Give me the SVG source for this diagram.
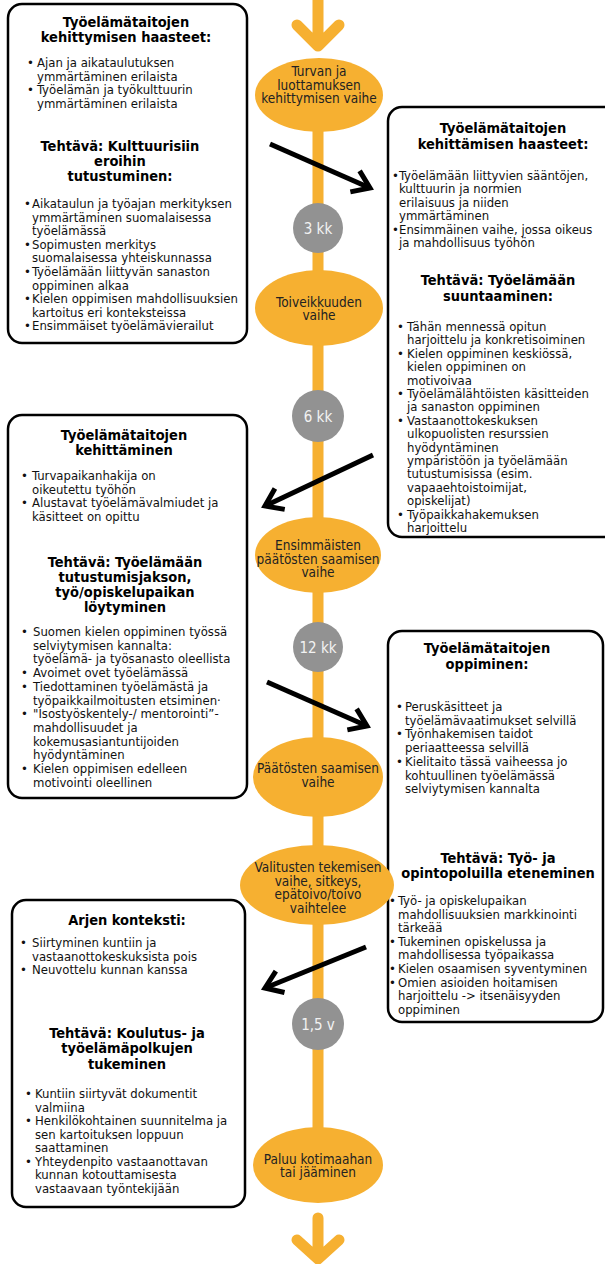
<svg xmlns="http://www.w3.org/2000/svg" width="605" height="1264" viewBox="0 0 605 1264">
<defs>
<style>
text { font-family: "DejaVu Sans Condensed", "DejaVu Sans", sans-serif; }
.box { fill: #ffffff; stroke: #000000; stroke-width: 2.5; }
.h { font-size: 14.5px; font-weight: bold; text-anchor: middle; fill: #000000; }
.b { font-size: 13px; fill: #111111; }
.e { font-size: 13.5px; text-anchor: middle; fill: #222222; }
.c { font-size: 15px; text-anchor: middle; fill: #f2f2f2; }
.phase { fill: #f6b031; }
.time { fill: #929292; }
.spine { stroke: #f6b031; stroke-width: 11; fill: none; stroke-linecap: round; stroke-linejoin: round; }
.arr { stroke: #000000; stroke-width: 5; fill: none; marker-end: url(#head); }
</style>
<marker id="head" markerUnits="userSpaceOnUse" viewBox="0 0 26 26" markerWidth="26" markerHeight="26" refX="20" refY="13" orient="auto" overflow="visible">
<path d="M3.6,1.5 L20,13 L3.6,24.5" fill="none" stroke="#000000" stroke-width="5" stroke-linejoin="miter"/>
</marker>
</defs>
<rect width="605" height="1264" fill="#ffffff"/>

<g id="box-1">
<rect class="box" x="8" y="4" width="239" height="339" rx="14"/>
<text class="h"><tspan x="126" y="27">Työelämätaitojen</tspan><tspan x="126" y="42">kehittymisen haasteet:</tspan></text>
<text class="b"><tspan x="27" y="67">•</tspan><tspan x="27" y="94">•</tspan></text>
<text class="b"><tspan x="37" y="67">Ajan ja aikataulutuksen</tspan><tspan x="37" y="80.5">ymmärtäminen erilaista</tspan><tspan x="37" y="94">Työelämän ja työkulttuurin</tspan><tspan x="37" y="107.5">ymmärtäminen erilaista</tspan></text>
<text class="h"><tspan x="120" y="151">Tehtävä: Kulttuurisiin</tspan><tspan x="120" y="166">eroihin</tspan><tspan x="120" y="181">tutustuminen:</tspan></text>
<text class="b"><tspan x="24" y="208">•</tspan><tspan x="24" y="248.8">•</tspan><tspan x="24" y="276">•</tspan><tspan x="24" y="303.2">•</tspan><tspan x="24" y="330.4">•</tspan></text>
<text class="b"><tspan x="32" y="208">Aikataulun ja työajan merkityksen</tspan><tspan x="32" y="221.6">ymmärtäminen suomalaisessa</tspan><tspan x="32" y="235.2">työelämässä</tspan><tspan x="32" y="248.8">Sopimusten merkitys</tspan><tspan x="32" y="262.4">suomalaisessa yhteiskunnassa</tspan><tspan x="32" y="276">Työelämään liittyvän sanaston</tspan><tspan x="32" y="289.6">oppiminen alkaa</tspan><tspan x="32" y="303.2">Kielen oppimisen mahdollisuuksien</tspan><tspan x="32" y="316.8">kartoitus eri konteksteissa</tspan><tspan x="32" y="330.4">Ensimmäiset työelämävierailut</tspan></text>
</g>

<g id="box-2">
<rect class="box" x="388" y="107" width="240" height="430" rx="14"/>
<text class="h"><tspan x="503" y="133">Työelämätaitojen</tspan><tspan x="503" y="149">kehittämisen haasteet:</tspan></text>
<text class="b"><tspan x="392" y="180">•</tspan><tspan x="392" y="233.6">•</tspan></text>
<text class="b"><tspan x="399" y="180">Työelämään liittyvien sääntöjen,</tspan><tspan x="399" y="193.4">kulttuurin ja normien</tspan><tspan x="399" y="206.8">erilaisuus ja niiden</tspan><tspan x="399" y="220.2">ymmärtäminen</tspan><tspan x="399" y="233.6">Ensimmäinen vaihe, jossa oikeus</tspan><tspan x="399" y="247">ja mahdollisuus työhön</tspan></text>
<text class="h"><tspan x="498" y="285">Tehtävä: Työelämään</tspan><tspan x="498" y="301">suuntaaminen:</tspan></text>
<text class="b"><tspan x="397" y="331">•</tspan><tspan x="397" y="357.8">•</tspan><tspan x="397" y="398">•</tspan><tspan x="397" y="424.8">•</tspan><tspan x="397" y="518.6">•</tspan></text>
<text class="b"><tspan x="407" y="331">Tähän mennessä opitun</tspan><tspan x="407" y="344.4">harjoittelu ja konkretisoiminen</tspan><tspan x="407" y="357.8">Kielen oppiminen keskiössä,</tspan><tspan x="407" y="371.2">kielen oppiminen on</tspan><tspan x="407" y="384.6">motivoivaa</tspan><tspan x="407" y="398">Työelämälähtöisten käsitteiden</tspan><tspan x="407" y="411.4">ja sanaston oppiminen</tspan><tspan x="407" y="424.8">Vastaanottokeskuksen</tspan><tspan x="407" y="438.2">ulkopuolisten resurssien</tspan><tspan x="407" y="451.6">hyödyntäminen</tspan><tspan x="407" y="465">ympäristöön ja työelämään</tspan><tspan x="407" y="478.4">tutustumisissa (esim.</tspan><tspan x="407" y="491.8">vapaaehtoistoimijat,</tspan><tspan x="407" y="505.2">opiskelijat)</tspan><tspan x="407" y="518.6">Työpaikkahakemuksen</tspan><tspan x="407" y="532">harjoittelu</tspan></text>
</g>

<g id="box-3">
<rect class="box" x="8" y="415" width="239" height="383" rx="14"/>
<text class="h"><tspan x="124" y="440">Työelämätaitojen</tspan><tspan x="124" y="455">kehittäminen</tspan></text>
<text class="b"><tspan x="21" y="480">•</tspan><tspan x="21" y="507">•</tspan></text>
<text class="b"><tspan x="32" y="480">Turvapaikanhakija on</tspan><tspan x="32" y="493.5">oikeutettu työhön</tspan><tspan x="32" y="507">Alustavat työelämävalmiudet ja</tspan><tspan x="32" y="520.5">käsitteet on opittu</tspan></text>
<text class="h"><tspan x="125" y="567">Tehtävä: Työelämään</tspan><tspan x="125" y="582">tutustumisjakson,</tspan><tspan x="125" y="597">työ/opiskelupaikan</tspan><tspan x="125" y="612">löytyminen</tspan></text>
<text class="b"><tspan x="21" y="636">•</tspan><tspan x="21" y="677.1">•</tspan><tspan x="21" y="690.8">•</tspan><tspan x="21" y="718.2">•</tspan><tspan x="21" y="773">•</tspan></text>
<text class="b"><tspan x="33" y="636">Suomen kielen oppiminen työssä</tspan><tspan x="33" y="649.7">selviytymisen kannalta:</tspan><tspan x="33" y="663.4">työelämä- ja työsanasto oleellista</tspan><tspan x="33" y="677.1">Avoimet ovet työelämässä</tspan><tspan x="33" y="690.8">Tiedottaminen työelämästä ja</tspan><tspan x="33" y="704.5">työpaikkailmoitusten etsiminen·</tspan><tspan x="33" y="718.2">"Isostyöskentely-/ mentorointi”-</tspan><tspan x="33" y="731.9">mahdollisuudet ja</tspan><tspan x="33" y="745.6">kokemusasiantuntijoiden</tspan><tspan x="33" y="759.3">hyödyntäminen</tspan><tspan x="33" y="773">Kielen oppimisen edelleen</tspan><tspan x="33" y="786.7">motivointi oleellinen</tspan></text>
</g>

<g id="box-4">
<rect class="box" x="388" y="631" width="215" height="391" rx="14"/>
<text class="h"><tspan x="487" y="653">Työelämätaitojen</tspan><tspan x="487" y="669">oppiminen:</tspan></text>
<text class="b"><tspan x="396" y="711">•</tspan><tspan x="396" y="738.4">•</tspan><tspan x="396" y="765.8">•</tspan></text>
<text class="b"><tspan x="405" y="711">Peruskäsitteet ja</tspan><tspan x="405" y="724.7">työelämävaatimukset selvillä</tspan><tspan x="405" y="738.4">Työnhakemisen taidot</tspan><tspan x="405" y="752.1">periaatteessa selvillä</tspan><tspan x="405" y="765.8">Kielitaito tässä vaiheessa jo</tspan><tspan x="405" y="779.5">kohtuullinen työelämässä</tspan><tspan x="405" y="793.2">selviytymisen kannalta</tspan></text>
<text class="h"><tspan x="498" y="863">Tehtävä: Työ- ja</tspan><tspan x="498" y="878">opintopoluilla eteneminen</tspan></text>
<text class="b"><tspan x="389" y="905">•</tspan><tspan x="389" y="945.8">•</tspan><tspan x="389" y="973">•</tspan><tspan x="389" y="986.6">•</tspan></text>
<text class="b"><tspan x="398" y="905">Työ- ja opiskelupaikan</tspan><tspan x="398" y="918.6">mahdollisuuksien markkinointi</tspan><tspan x="398" y="932.2">tärkeää</tspan><tspan x="398" y="945.8">Tukeminen opiskelussa ja</tspan><tspan x="398" y="959.4">mahdollisessa työpaikassa</tspan><tspan x="398" y="973">Kielen osaamisen syventyminen</tspan><tspan x="398" y="986.6">Omien asioiden hoitamisen</tspan><tspan x="398" y="1000.2">harjoittelu -&gt; itsenäisyyden</tspan><tspan x="398" y="1013.8">oppiminen</tspan></text>
</g>

<g id="box-5">
<rect class="box" x="12" y="900" width="233" height="307" rx="14"/>
<text class="h"><tspan x="127" y="925">Arjen konteksti:</tspan></text>
<text class="b"><tspan x="20" y="947">•</tspan><tspan x="20" y="974">•</tspan></text>
<text class="b"><tspan x="32" y="947">Siirtyminen kuntiin ja</tspan><tspan x="32" y="960.5">vastaanottokeskuksista pois</tspan><tspan x="32" y="974">Neuvottelu kunnan kanssa</tspan></text>
<text class="h"><tspan x="127" y="1038">Tehtävä: Koulutus- ja</tspan><tspan x="127" y="1053">työelämäpolkujen</tspan><tspan x="127" y="1069">tukeminen</tspan></text>
<text class="b"><tspan x="25" y="1098">•</tspan><tspan x="25" y="1125">•</tspan><tspan x="25" y="1165.5">•</tspan></text>
<text class="b"><tspan x="35" y="1098">Kuntiin siirtyvät dokumentit</tspan><tspan x="35" y="1111.5">valmiina</tspan><tspan x="35" y="1125">Henkilökohtainen suunnitelma ja</tspan><tspan x="35" y="1138.5">sen kartoituksen loppuun</tspan><tspan x="35" y="1152">saattaminen</tspan><tspan x="35" y="1165.5">Yhteydenpito vastaanottavan</tspan><tspan x="35" y="1179">kunnan kotouttamisesta</tspan><tspan x="35" y="1192.5">vastaavaan työntekijään</tspan></text>
</g>

<g id="timeline">
<path class="spine" d="M318,-10 L318,44 M297,25 L318,46 L339,25"/>
<path class="spine" d="M318,100 L318,1165" stroke-linecap="butt"/>
<path class="spine" d="M318,1218 L318,1258 M297,1240 L318,1259 L339,1240"/>
</g>

<g id="phase-1"><ellipse class="phase" cx="319" cy="95" rx="64" ry="37"/>
<text class="e"><tspan x="319" y="76">Turvan ja</tspan><tspan x="319" y="89.5">luottamuksen</tspan><tspan x="319" y="103">kehittymisen vaihe</tspan></text></g>
<g id="time-3kk"><circle class="time" cx="318" cy="228" r="25"/><text class="c" x="318" y="234">3 kk</text></g>
<g id="phase-2"><ellipse class="phase" cx="319" cy="308" rx="64" ry="38"/>
<text class="e"><tspan x="319" y="306.5">Toiveikkuuden</tspan><tspan x="319" y="320">vaihe</tspan></text></g>
<g id="time-6kk"><circle class="time" cx="318" cy="416" r="26"/><text class="c" x="318" y="422">6 kk</text></g>
<g id="phase-3"><ellipse class="phase" cx="318" cy="555" rx="63" ry="38"/>
<text class="e"><tspan x="318" y="550">Ensimmäisten</tspan><tspan x="318" y="563.5">päätösten saamisen</tspan><tspan x="318" y="577">vaihe</tspan></text></g>
<g id="time-12kk"><circle class="time" cx="318" cy="647" r="25"/><text class="c" x="318" y="653">12 kk</text></g>
<g id="phase-4"><ellipse class="phase" cx="318" cy="777" rx="65" ry="40"/>
<text class="e"><tspan x="318" y="773">Päätösten saamisen</tspan><tspan x="318" y="787">vaihe</tspan></text></g>
<g id="phase-5"><ellipse class="phase" cx="317" cy="885" rx="77" ry="40"/>
<text class="e"><tspan x="318" y="872">Valitusten tekemisen</tspan><tspan x="318" y="885.7">vaihe, sitkeys,</tspan><tspan x="318" y="899.4">epätoivo/toivo</tspan><tspan x="318" y="913.1">vaihtelee</tspan></text></g>
<g id="time-15v"><circle class="time" cx="318" cy="1024" r="26"/><text class="c" x="318" y="1030">1,5 v</text></g>
<g id="phase-6"><ellipse class="phase" cx="318" cy="1165" rx="65" ry="38"/>
<text class="e"><tspan x="318" y="1163.5">Paluu kotimaahan</tspan><tspan x="318" y="1177">tai jääminen</tspan></text></g>

<g id="connectors">
<path class="arr" d="M270,144 L370,188"/>
<path class="arr" d="M373,455 L265,506"/>
<path class="arr" d="M267,682 L367,726"/>
<path class="arr" d="M366,947 L265,988"/>
</g>
</svg>
